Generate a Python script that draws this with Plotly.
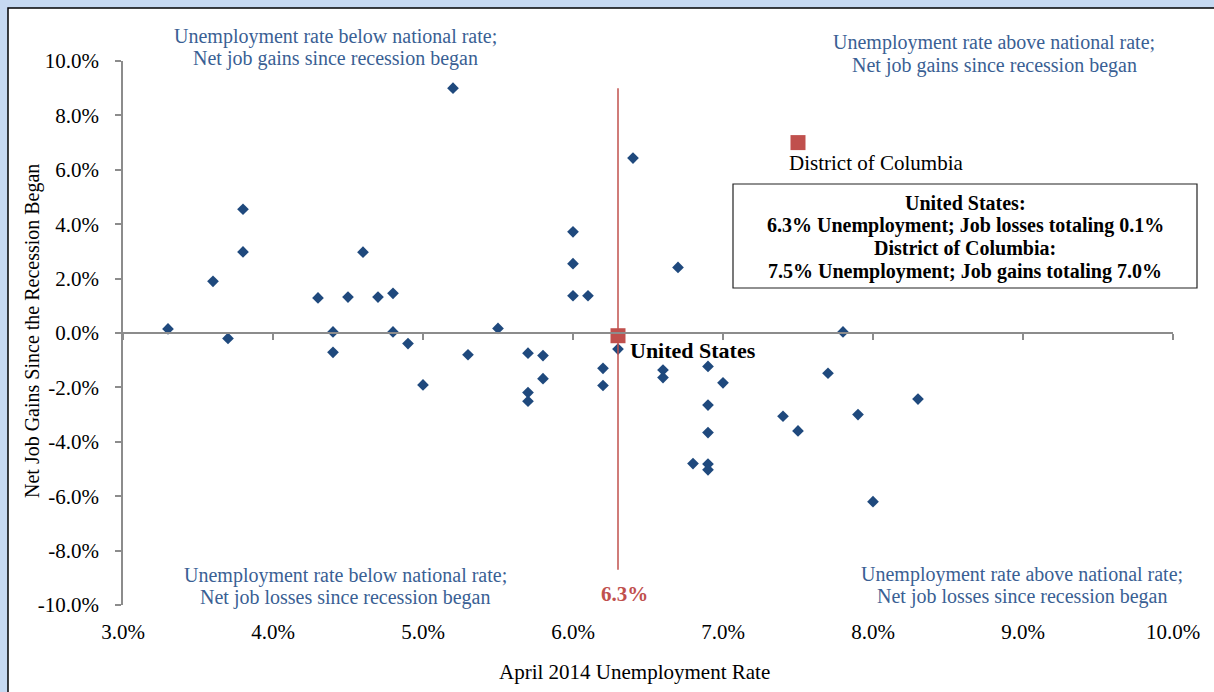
import plotly.graph_objects as go

# ---- data ----
state_unemp = [3.3, 3.6, 3.7, 3.8, 3.8, 4.3, 4.4, 4.4, 4.5, 4.6, 4.7, 4.8, 4.8, 4.9, 5.0,
               5.2, 5.3, 5.5, 5.7, 5.7, 5.7, 5.8, 5.8, 6.0, 6.0, 6.0, 6.1, 6.2, 6.2, 6.3,
               6.4, 6.6, 6.6, 6.7, 6.9, 6.9, 6.9, 6.8, 6.9, 6.9, 7.0, 7.4, 7.5, 7.7, 7.8,
               7.9, 8.0, 8.3]
state_jobs = [0.15, 1.9, -0.2, 4.55, 2.98, 1.29, 0.04, -0.71, 1.32, 2.97, 1.32, 1.46, 0.04, -0.39, -1.91,
              9.0, -0.8, 0.17, -0.74, -2.19, -2.51, -0.83, -1.68, 3.72, 2.55, 1.37, 1.37, -1.3, -1.93, -0.59,
              6.43, -1.36, -1.64, 2.41, -1.23, -2.65, -3.66, -4.8, -4.82, -5.03, -1.83, -3.06, -3.6, -1.48, 0.04,
              -3.0, -6.2, -2.43]

us_unemp = 6.3
us_jobs = -0.1
dc_unemp = 7.5
dc_jobs = 7.0
us_line_y = [9.0, -8.7]

x_ticks = [3, 4, 5, 6, 7, 8, 9, 10]
y_ticks = [-10, -8, -6, -4, -2, 0, 2, 4, 6, 8, 10]

quadrant_labels = {
    "tl": ["Unemployment rate below national rate;", "Net job gains since recession began"],
    "tr": ["Unemployment rate above national rate;", "Net job gains since recession began"],
    "bl": ["Unemployment rate below national rate;", "Net job losses since recession began"],
    "br": ["Unemployment rate above national rate;", "Net job losses since recession began"],
}
box_lines = ["United States:",
             "6.3% Unemployment; Job losses totaling 0.1%",
             "District of Columbia:",
             "7.5% Unemployment; Job gains totaling 7.0%"]

FONT = "Liberation Serif"
BLUE = "#3A5F94"
RED = "#C0504D"
DIAMOND = "#1F497D"
AXIS = "#8C8C8C"

W, H = 1214, 692
L, R, T, B = 123, 41, 61, 87
PW, PH = W - L - R, H - T - B


def px(x):
    return (x - L) / PW


def py(y):
    return (H - B - y) / PH


fig = go.Figure()

fig.add_trace(go.Scatter(
    x=state_unemp, y=state_jobs, mode="markers",
    marker=dict(symbol="diamond", size=9, color=DIAMOND),
    showlegend=False, hoverinfo="x+y"))

fig.add_trace(go.Scatter(
    x=[us_unemp, us_unemp], y=us_line_y, mode="lines", xaxis="x2",
    line=dict(color=RED, width=1.5), showlegend=False, hoverinfo="skip"))

fig.add_trace(go.Scatter(
    x=[us_unemp, dc_unemp], y=[us_jobs, dc_jobs], mode="markers",
    marker=dict(symbol="square", size=15, color=RED),
    showlegend=False))

annotations = []


def add_lines(lines, cx, cy_top, size, color, bold=False, spacing=22.5):
    for i, t in enumerate(lines):
        annotations.append(dict(
            x=px(cx), y=py(cy_top + i * spacing), xref="paper", yref="paper",
            text=f"<b>{t}</b>" if bold else t, showarrow=False,
            xanchor="center", yanchor="middle",
            font=dict(family=FONT, size=size, color=color)))


add_lines(quadrant_labels["tl"], 335, 36, 20, BLUE)
add_lines(quadrant_labels["tr"], 994, 43, 20, BLUE)
add_lines(quadrant_labels["bl"], 345, 575, 20, BLUE)
add_lines(quadrant_labels["br"], 1022, 574, 20, BLUE)
add_lines(box_lines, 965, 203, 20, "#000000", bold=True, spacing=22.7)

annotations.append(dict(x=dc_unemp, y=dc_jobs, xref="x", yref="y", text="District of Columbia",
                        showarrow=False, xanchor="left", yanchor="top", xshift=-11, yshift=-6,
                        font=dict(family=FONT, size=21, color="#000000")))
annotations.append(dict(x=us_unemp, y=us_jobs, xref="x", yref="y", text="<b>United States</b>",
                        showarrow=False, xanchor="left", yanchor="middle", xshift=10, yshift=-15,
                        font=dict(family=FONT, size=22, color="#000000")))
annotations.append(dict(x=us_unemp, y=us_line_y[1], xref="x", yref="y", text=f"<b>{us_unemp:.1f}%</b>",
                        showarrow=False, xanchor="center", yanchor="top", xshift=6, yshift=-10,
                        font=dict(family=FONT, size=21, color=RED)))
annotations.append(dict(x=px(634), y=py(672), xref="paper", yref="paper",
                        text="April 2014 Unemployment Rate", showarrow=False,
                        xanchor="center", yanchor="middle",
                        font=dict(family=FONT, size=21, color="#000000")))
annotations.append(dict(x=px(32), y=py(331), xref="paper", yref="paper",
                        text="Net Job Gains Since the Recession Began", showarrow=False, textangle=-90,
                        xanchor="center", yanchor="middle",
                        font=dict(family=FONT, size=20, color="#000000")))

shapes = [
    dict(type="rect", xref="paper", yref="paper", x0=px(8), x1=px(1300), y0=py(800), y1=py(8),
         fillcolor="white", line=dict(color="#000000", width=1.5), layer="below"),
    dict(type="rect", xref="paper", yref="paper", x0=px(733), x1=px(1197), y0=py(288), y1=py(184),
         fillcolor="rgba(0,0,0,0)", line=dict(color="#222222", width=1.2), layer="above"),
]

fig.update_layout(
    width=W, height=H,
    margin=dict(l=L, r=R, t=T, b=B, pad=0),
    paper_bgcolor="#C6D9F1", plot_bgcolor="white",
    font=dict(family=FONT, size=21, color="#000000"),
    xaxis=dict(range=[3, 10], tickvals=x_ticks, ticktext=[f"{v:.1f}%" for v in x_ticks],
               showline=False, ticks="", showgrid=False, zeroline=False,
               ticklabelstandoff=12, tickfont=dict(family=FONT, size=21, color="#000000")),
    xaxis2=dict(range=[3, 10], tickvals=x_ticks, overlaying="x", anchor="free", position=0.5,
                showline=True, linecolor=AXIS, linewidth=1.5, ticks="outside", ticklen=6,
                tickcolor=AXIS, tickwidth=1.5, showticklabels=False, showgrid=False, zeroline=False),
    yaxis=dict(range=[-10, 10], tickvals=y_ticks, ticktext=[f"{v:.1f}%" for v in y_ticks],
               showline=True, linecolor=AXIS, linewidth=1.5, ticks="outside", ticklen=6,
               tickcolor=AXIS, tickwidth=1.5, showgrid=False, zeroline=False,
               ticklabelstandoff=12, tickfont=dict(family=FONT, size=21, color="#000000")),
    annotations=annotations,
    shapes=shapes,
)

fig.write_html("out.html", config={"displayModeBar": False},
               post_script="document.body.style.margin='0';document.body.style.overflow='hidden';")
